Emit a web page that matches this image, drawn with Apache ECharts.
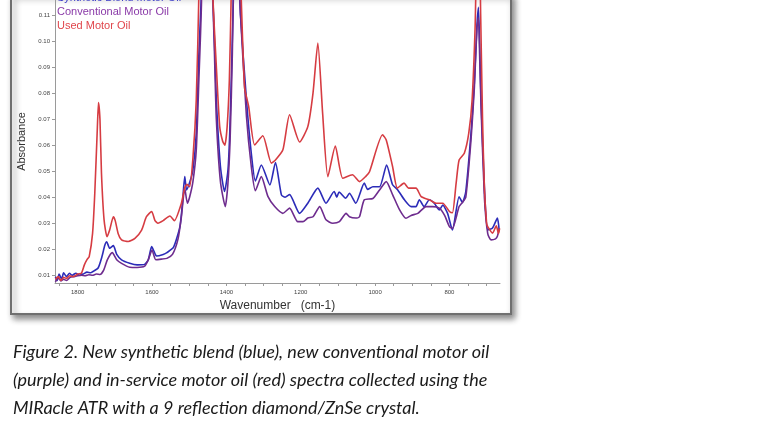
<!DOCTYPE html>
<html>
<head>
<meta charset="utf-8">
<script src="https://cdn.jsdelivr.net/npm/echarts@6/dist/echarts.min.js"></script>
<style>
  html, body { margin: 0; padding: 0; background: #ffffff; }
  #chart { width: 768px; height: 432px; }
</style>
</head>
<body>
<div id="chart"></div>
<script>
// synthetic blend (blue)
const blendWn = [1860,1855,1850,1843,1838,1830,1822,1815,1805,1795,1785,1775,1765,1755,1745,1735,1727,1722,1714,1704,1695,1682,1660,1640,1620,1610,1601,1594,1588,1570,1560,1542,1525,1518,1512,1507,1498,1490,1481,1474,1467,1460,1452,1444,1437,1432,1427,1416,1405,1396,1391,1385,1379,1372,1366,1362,1346,1333,1322,1306,1283,1268,1252,1242,1230,1203,1181,1154,1132,1110,1103,1097,1079,1069,1052,1029,1020,1006,988,969,953,939,921,903,890,881,868,854,841,827,818,805,792,774,765,756,742,733,726,722,718,715,706,697,684,671,666];
const blendAbs = [0.0095,0.0080,0.0105,0.0085,0.0110,0.0095,0.0108,0.0100,0.0108,0.0100,0.0105,0.0112,0.0110,0.0118,0.0128,0.0170,0.0215,0.0229,0.0204,0.0214,0.0180,0.0159,0.0146,0.0140,0.0142,0.0160,0.0210,0.0190,0.0174,0.0180,0.0187,0.0208,0.0287,0.0380,0.0479,0.0428,0.0460,0.0505,0.0646,0.0950,0.1200,0.2200,0.2500,0.2000,0.1200,0.1000,0.0774,0.0518,0.0422,0.0500,0.0646,0.0950,0.1300,0.2000,0.1300,0.1100,0.0774,0.0569,0.0462,0.0524,0.0447,0.0533,0.0409,0.0400,0.0410,0.0338,0.0377,0.0435,0.0377,0.0422,0.0400,0.0420,0.0396,0.0415,0.0377,0.0454,0.0430,0.0440,0.0440,0.0524,0.0448,0.0428,0.0390,0.0364,0.0364,0.0390,0.0364,0.0390,0.0377,0.0351,0.0370,0.0338,0.0274,0.0402,0.0380,0.0422,0.0646,0.0840,0.1060,0.1130,0.0950,0.0774,0.0440,0.0274,0.0282,0.0320,0.0270];

// conventional (purple)
const convWn = [1860,1852,1845,1838,1830,1820,1810,1800,1790,1780,1770,1760,1750,1740,1730,1720,1707,1695,1682,1660,1640,1620,1610,1600,1590,1575,1560,1545,1530,1521,1512,1505,1499,1490,1481,1474,1467,1460,1452,1444,1437,1432,1427,1416,1403,1396,1390,1384,1379,1372,1366,1362,1346,1333,1322,1306,1288,1270,1248,1230,1208,1194,1181,1167,1149,1132,1114,1096,1078,1069,1052,1042,1029,1006,988,970,953,934,917,903,885,863,845,827,813,800,792,774,765,756,742,733,726,722,718,715,706,697,688,676,671,666];
const convAbs = [0.0075,0.0090,0.0078,0.0085,0.0080,0.0092,0.0095,0.0098,0.0100,0.0098,0.0102,0.0100,0.0105,0.0103,0.0120,0.0160,0.0187,0.0160,0.0146,0.0131,0.0130,0.0135,0.0160,0.0197,0.0160,0.0162,0.0165,0.0180,0.0240,0.0325,0.0435,0.0377,0.0400,0.0460,0.0582,0.0850,0.1150,0.2200,0.2500,0.2000,0.1200,0.0950,0.0700,0.0460,0.0364,0.0450,0.0620,0.0950,0.1400,0.2000,0.1300,0.1100,0.0710,0.0518,0.0425,0.0479,0.0402,0.0364,0.0338,0.0358,0.0306,0.0306,0.0320,0.0325,0.0364,0.0313,0.0300,0.0306,0.0338,0.0325,0.0320,0.0325,0.0390,0.0395,0.0428,0.0460,0.0410,0.0351,0.0319,0.0330,0.0338,0.0364,0.0364,0.0358,0.0330,0.0287,0.0280,0.0364,0.0380,0.0400,0.0620,0.0820,0.1050,0.1090,0.0900,0.0750,0.0400,0.0260,0.0236,0.0240,0.0250,0.0280];

// used (red)
const usedWn = [1860,1852,1845,1838,1830,1822,1812,1800,1790,1782,1775,1769,1760,1754,1747,1744,1740,1736,1729,1721,1714,1704,1699,1691,1682,1664,1646,1628,1615,1601,1592,1584,1570,1552,1540,1521,1512,1506,1499,1490,1481,1474,1465,1455,1445,1437,1427,1418,1410,1404,1398,1392,1387,1377,1368,1360,1351,1340,1324,1302,1279,1268,1248,1230,1203,1181,1167,1154,1141,1127,1107,1087,1061,1042,1025,1015,980,970,953,940,922,910,890,876,854,836,818,800,792,782,774,760,748,739,731,725,720,716,711,706,700,697,684,674,668,665];
const usedAbs = [0.0085,0.0095,0.0080,0.0092,0.0088,0.0098,0.0095,0.0105,0.0108,0.0140,0.0160,0.0172,0.0260,0.0415,0.0670,0.0764,0.0697,0.0492,0.0313,0.0248,0.0274,0.0325,0.0310,0.0260,0.0236,0.0230,0.0242,0.0274,0.0325,0.0345,0.0310,0.0300,0.0310,0.0328,0.0310,0.0377,0.0436,0.0450,0.0440,0.0550,0.0774,0.1180,0.2000,0.2500,0.2000,0.1200,0.0902,0.0672,0.0615,0.0600,0.0670,0.0850,0.1180,0.2000,0.1500,0.1160,0.0821,0.0748,0.0601,0.0636,0.0531,0.0543,0.0582,0.0717,0.0612,0.0671,0.0800,0.0992,0.0720,0.0479,0.0597,0.0473,0.0486,0.0460,0.0480,0.0498,0.0640,0.0620,0.0518,0.0435,0.0454,0.0435,0.0435,0.0402,0.0390,0.0377,0.0377,0.0345,0.0340,0.0454,0.0543,0.0569,0.0646,0.0774,0.1050,0.1400,0.1400,0.1100,0.0700,0.0440,0.0300,0.0287,0.0262,0.0290,0.0260,0.0280];

const xLabels = [800, 1000, 1200, 1400, 1600, 1800];
const xTicks = [700,750,800,850,900,950,1000,1050,1100,1150,1200,1250,1300,1350,1400,1450,1500,1550,1600,1650,1700,1750,1800,1850];
const yTicks = [0.01,0.02,0.03,0.04,0.05,0.06,0.07,0.08,0.09,0.10,0.11];

const seriesNames = ["Synthetic Blend Motor Oil", "Conventional Motor Oil", "Used Motor Oil"];
const lineColors = ["#2c2cb8", "#6e2c8e", "#d63c42"];
const textColors = ["#3b3bc8", "#8a3aa8", "#e0464c"];

const captionLines = [
  "Figure 2. New synthetic blend (blue), new conventional motor oil",
  "(purple) and in-service motor oil (red) spectra collected using the",
  "MIRacle ATR with a 9 reflection diamond/ZnSe crystal."
];

function zip(xs, ys) {
  return xs.map((x, i) => [x, ys[i]]);
}

const chart = echarts.init(document.getElementById("chart"));

const lineSeries = [zip(blendWn, blendAbs), zip(convWn, convAbs), zip(usedWn, usedAbs)].map((d, i) => ({
  name: seriesNames[i],
  type: "line",
  data: d,
  symbol: "none",
  smooth: 0.2,
  clip: true,
  z: 3 + i,
  lineStyle: { color: lineColors[i], width: 1.6 },
  itemStyle: { color: lineColors[i] },
}));

chart.setOption({
  animation: false,
  backgroundColor: "#ffffff",
  grid: { left: 55, right: 268, top: 0, bottom: 149 },
  legend: {
    orient: "vertical",
    left: 52,
    top: -8,
    padding: 0,
    itemGap: 3,
    itemWidth: 0,
    itemHeight: 0,
    icon: "none",
    selectedMode: false,
    textStyle: { fontSize: 11, fontFamily: "Liberation Sans" },
    data: seriesNames.map((n, i) => ({ name: n, textStyle: { color: textColors[i] } })),
  },
  xAxis: {
    type: "value",
    inverse: true,
    min: 664,
    max: 1861,
    name: "Wavenumber   (cm-1)",
    nameLocation: "middle",
    nameGap: 12,
    nameTextStyle: { fontSize: 12, color: "#333", fontFamily: "Liberation Sans" },
    splitLine: { show: false },
    axisLine: { show: true, onZero: false, lineStyle: { color: "#9a9a9a", width: 1 } },
    axisTick: { show: true, length: 3, customValues: xTicks, lineStyle: { color: "#9a9a9a" } },
    axisLabel: {
      customValues: xLabels,
      fontSize: 6,
      color: "#444",
      margin: 6,
      fontFamily: "Liberation Sans",
      formatter: (v) => String(v),
    },
  },
  yAxis: {
    type: "value",
    min: 0.00704,
    max: 0.11576,
    name: "Absorbance",
    nameLocation: "middle",
    nameGap: 17,
    nameTextStyle: { fontSize: 11, color: "#333", fontFamily: "Liberation Sans" },
    splitLine: { show: false },
    axisLine: { show: true, lineStyle: { color: "#9a9a9a", width: 1 } },
    axisTick: { show: true, length: 3, customValues: yTicks, lineStyle: { color: "#9a9a9a" } },
    axisLabel: {
      customValues: yTicks,
      fontSize: 6,
      color: "#444",
      margin: 5,
      fontFamily: "Liberation Sans",
      formatter: (v) => Number(v).toFixed(2),
    },
  },
  series: lineSeries,
  graphic: [
    {
      type: "rect",
      z: -10,
      shape: { x: 11, y: -6, width: 500, height: 320 },
      style: {
        fill: "#ffffff",
        stroke: "#6f6f6f",
        lineWidth: 2,
        shadowBlur: 6,
        shadowOffsetX: 3,
        shadowOffsetY: 4,
        shadowColor: "rgba(0,0,0,0.45)",
      },
    },
  ].concat(captionLines.map((t, i) => ({
    type: "text",
    z: 10,
    style: {
      x: 13,
      y: 352 + i * 28,
      text: t,
      fill: "#1a1a1a",
      font: "italic 18px Lato",
      verticalAlign: "middle",
    },
  }))),
});
</script>
</body>
</html>
